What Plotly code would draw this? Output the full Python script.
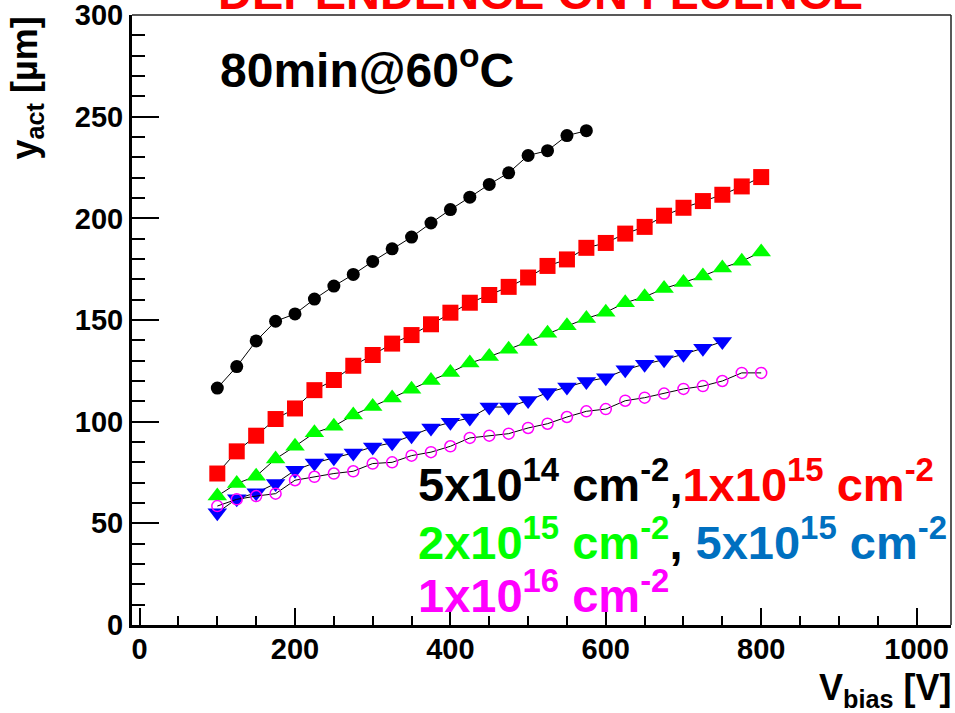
import plotly.graph_objects as go

# ---------------- data ----------------
x_black = [100, 125, 150, 175, 200, 225, 250, 275, 300, 325, 350, 375, 400, 425, 450,
           475, 500, 525, 550, 575]
y_black = [116.5, 127.1, 139.7, 149.4, 153.0, 160.3, 166.7, 172.4, 178.8, 185.0, 190.8,
           197.7, 204.3, 210.4, 216.7, 222.4, 230.9, 233.3, 240.7, 243.1]

x_red = [100, 125, 150, 175, 200, 225, 250, 275, 300, 325, 350, 375, 400, 425, 450,
         475, 500, 525, 550, 575, 600, 625, 650, 675, 700, 725, 750, 775, 800]
y_red = [74.5, 85.4, 93.1, 101.3, 106.5, 115.5, 120.5, 127.5, 132.8, 138.4, 142.6, 147.9,
         153.6, 158.5, 162.3, 166.3, 170.9, 176.6, 179.8, 185.5, 187.9, 192.5, 195.8,
         201.3, 205.2, 208.5, 211.6, 215.7, 220.3]

x_green = [100, 125, 150, 175, 200, 225, 250, 275, 300, 325, 350, 375, 400, 425, 450,
           475, 500, 525, 550, 575, 600, 625, 650, 675, 700, 725, 750, 775, 800]
y_green = [63.4, 69.6, 73.2, 81.7, 87.9, 94.5, 97.7, 103.3, 107.5, 111.6, 116.0, 120.3,
           124.2, 128.8, 132.0, 135.6, 139.4, 143.5, 147.2, 150.8, 153.8, 158.5, 161.4,
           165.5, 168.5, 171.6, 175.6, 178.9, 183.5]

x_blue = [100, 125, 150, 175, 200, 225, 250, 275, 300, 325, 350, 375, 400, 425, 450,
          475, 500, 525, 550, 575, 600, 625, 650, 675, 700, 725, 750]
y_blue = [55.2, 62.1, 65.0, 69.6, 76.1, 79.7, 82.2, 84.6, 87.6, 89.6, 93.1, 96.9, 99.7,
          101.8, 107.2, 107.2, 110.4, 114.3, 117.0, 119.8, 121.6, 125.5, 128.3, 130.5,
          133.2, 136.1, 139.4]

x_magenta = [100, 125, 150, 175, 200, 225, 250, 275, 300, 325, 350, 375, 400, 425, 450,
             475, 500, 525, 550, 575, 600, 625, 650, 675, 700, 725, 750, 775, 800]
y_magenta = [58.5, 61.8, 63.4, 64.6, 71.2, 72.9, 74.5, 75.6, 79.4, 80.0, 83.3, 85.0, 87.9,
             92.0, 93.1, 94.1, 96.9, 99.0, 102.3, 105.1, 106.2, 110.3, 111.8, 113.8,
             116.1, 117.5, 120.0, 124.0, 124.0]

x_tickvals = [0, 200, 400, 600, 800, 1000]
x_ticktext = ["0", "200", "400", "600", "800", "1000"]
y_tickvals = [0, 50, 100, 150, 200, 250, 300]
y_ticktext = ["0", "50", "100", "150", "200", "250", "300"]

title_text = "DEPENDENCE ON FLUENCE"
cond_text = "80min@60<sup>o</sup>C"
legend_line1 = ("5x10<sup>14</sup> cm<sup>-2</sup>,"
                "<span style='color:#FF0000'>1x10<sup>15</sup> cm<sup>-2</sup></span>")
legend_line2 = ("<span style='color:#00FF00'>2x10<sup>15</sup> cm<sup>-2</sup></span>, "
                "<span style='color:#0070C0'>5x10<sup>15</sup> cm<sup>-2</sup></span>")
legend_line3 = "<span style='color:#FF00FF'>1x10<sup>16</sup> cm<sup>-2</sup></span>"

FONT = "Liberation Sans, Arial, sans-serif"

# ---------------- figure ----------------
fig = go.Figure()

def add_series(x, y, symbol, color, size, open_marker=False):
    if open_marker:
        marker = dict(symbol=symbol, size=size, color=color, line=dict(color=color, width=1.5))
    else:
        marker = dict(symbol=symbol, size=size, color=color, line=dict(width=0))
    fig.add_trace(go.Scatter(x=x, y=y, mode="lines+markers",
                             line=dict(color="black", width=1),
                             marker=marker, showlegend=False))

add_series(x_black, y_black, "circle", "black", 13)
add_series(x_red, y_red, "square", "#FF0000", 16)
add_series(x_green, y_green, "triangle-up", "#00FF00", 17)
add_series(x_blue, y_blue, "triangle-down", "#0000FF", 17)
add_series(x_magenta, y_magenta, "circle-open", "#FF00FF", 11, open_marker=True)

fig.update_layout(
    width=955, height=713,
    margin=dict(l=132, r=4, t=15, b=88, pad=0, autoexpand=False),
    paper_bgcolor="white", plot_bgcolor="white",
    font=dict(family=FONT, color="black"),
    showlegend=False,
)

fig.update_xaxes(
    range=[-9.8, 1044.3], showgrid=False, zeroline=False, automargin=False,
    showline=True, linewidth=3, linecolor="black", mirror=False,
    ticks="inside", ticklen=17, tickwidth=1.5, tickcolor="black",
    tickvals=x_tickvals, ticktext=x_ticktext,
    tickfont=dict(family=FONT, size=29, color="black", weight="bold"),
    minor=dict(dtick=50, tick0=0, ticks="inside", ticklen=9, tickwidth=1.5, tickcolor="black"),
    ticklabelstandoff=-4, ticklabeloverflow="allow",
)
fig.update_yaxes(
    range=[0, 300.01], showgrid=False, zeroline=False, automargin=False,
    showline=True, linewidth=3, linecolor="black", mirror=False,
    ticks="inside", ticklen=27, tickwidth=1.5, tickcolor="black",
    tickvals=y_tickvals, ticktext=y_ticktext,
    tickfont=dict(family=FONT, size=29, color="black", weight="bold"),
    minor=dict(dtick=10, tick0=0, ticks="inside", ticklen=13, tickwidth=1.5, tickcolor="black"),
    ticklabelstandoff=0, ticklabeloverflow="allow",
)

# top and right frame lines (thin)
fig.add_shape(type="line", xref="paper", yref="paper", x0=0, x1=1, y0=1, y1=1,
              line=dict(color="#222222", width=1.5))
fig.add_shape(type="line", xref="paper", yref="paper", x0=1, x1=1, y0=0, y1=1,
              line=dict(color="#222222", width=1.5))

PW, PH, L, T = 819.0, 610.0, 132.0, 15.0

def px(xp):
    return (xp - L) / PW

def py(yp):
    return (T + PH - yp) / PH

# Title (cut by top edge)
fig.add_annotation(text="<b>" + title_text + "</b>", xref="paper", yref="paper",
                   x=px(540), y=py(-8), xanchor="center", yanchor="middle",
                   showarrow=False, font=dict(family=FONT, size=47, color="#FF0000"))

# condition text
fig.add_annotation(text="<b>" + cond_text + "</b>", xref="paper", yref="paper",
                   x=px(218), y=py(67), xanchor="left", yanchor="middle",
                   showarrow=False, font=dict(family=FONT, size=48, color="black"))

# legend-like text
for txt, ycen in [(legend_line1, 481), (legend_line2, 539), (legend_line3, 592)]:
    fig.add_annotation(text="<b>" + txt + "</b>", xref="paper", yref="paper",
                       x=px(416), y=py(ycen), xanchor="left", yanchor="middle",
                       showarrow=False, font=dict(family=FONT, size=47, color="black"))

# axis titles
fig.add_annotation(text="<b>V<sub>bias</sub> [V]</b>", xref="paper", yref="paper",
                   x=px(953), y=py(690), xanchor="right", yanchor="middle",
                   showarrow=False, font=dict(family=FONT, size=36, color="black"))
fig.add_annotation(text="<b>y<sub>act</sub> [µm]</b>", xref="paper", yref="paper",
                   x=px(26), y=py(14), xanchor="center", yanchor="top", textangle=-90,
                   showarrow=False, font=dict(family=FONT, size=36, color="black"))

fig.write_html("out.html", config={"displayModeBar": False},
               post_script="document.body.style.margin='0';document.body.style.padding='0';")
